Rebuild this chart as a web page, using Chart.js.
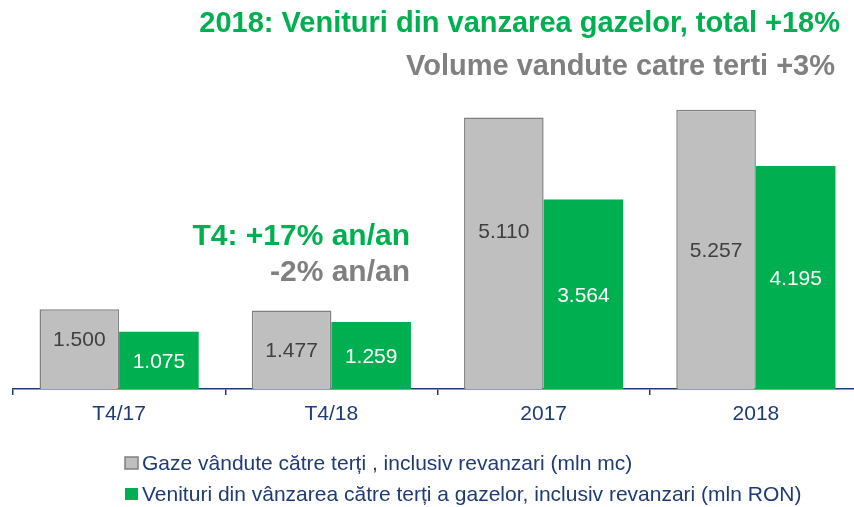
<!DOCTYPE html>
<html>
<head>
<meta charset="utf-8">
<script src="https://cdn.jsdelivr.net/npm/chart.js@4.4.0/dist/chart.umd.min.js"></script>
<style>
  html, body { margin: 0; padding: 0; background: #fff; overflow: hidden; }
  #wrap { width: 854px; height: 507px; overflow: hidden; }
  #box { width: 875px; height: 507px; }
</style>
</head>
<body>
<div id="wrap"><div id="box"><canvas id="myChart"></canvas></div></div>
<script>
const labels = ["T4/17", "T4/18", "2017", "2018"];
const gazeVandute = [1500, 1477, 5110, 5257];
const venituri = [1075, 1259, 3564, 4195];
const legendLabels = [
    "Gaze vândute către terți , inclusiv revanzari (mln mc)",
    "Venituri din vânzarea către terți a gazelor, inclusiv revanzari (mln RON)"
];

const GREEN = "#00b050";
const GREY_TEXT = "#808080";
const NAVY = "#1f3b73";
const FONT = "'Liberation Sans', Arial, sans-serif";

const fmt = v => v.toLocaleString("de-DE");

// value labels in the bars + headline texts + legend
const overlay = {
    id: "overlay",
    afterDatasetsDraw(chart) {
        const ctx = chart.ctx;
        ctx.save();
        ctx.textAlign = "center";
        ctx.textBaseline = "alphabetic";
        ctx.font = "21px " + FONT;
        chart.data.datasets.forEach((ds, i) => {
            chart.getDatasetMeta(i).data.forEach((bar, j) => {
                const mid = (bar.y + bar.base) / 2;
                // the label in the first and third grey bar sits higher
                let nudge = 0;
                if (i === 0 && j === 0) nudge = -11;
                if (i === 0 && j === 2) nudge = -23;
                ctx.fillStyle = i === 0 ? "#404040" : "#ffffff";
                ctx.fillText(fmt(ds.data[j]), bar.x, mid + nudge + 7.5);
            });
        });

        ctx.textAlign = "right";
        ctx.font = "bold 29px " + FONT;
        ctx.fillStyle = GREEN;
        ctx.fillText("2018: Venituri din vanzarea gazelor, total +18%", 840, 32);
        ctx.fillStyle = GREY_TEXT;
        ctx.fillText("Volume vandute catre terti +3%", 835, 75);

        ctx.font = "bold 30px " + FONT;
        ctx.fillStyle = GREEN;
        ctx.fillText("T4: +17% an/an", 410, 245);
        ctx.fillStyle = GREY_TEXT;
        ctx.fillText("-2% an/an", 410, 281);

        // legend
        ctx.textAlign = "left";
        ctx.font = "21px " + FONT;
        const rows = [470, 501];
        rows.forEach((y, k) => {
            const ds = chart.data.datasets[k];
            ctx.fillStyle = ds.backgroundColor;
            ctx.fillRect(125, y - 13, 13, 12);
            if (k === 0) {
                ctx.strokeStyle = ds.borderColor;
                ctx.lineWidth = 1.5;
                ctx.strokeRect(125, y - 13, 13, 12);
            }
            ctx.fillStyle = NAVY;
            ctx.fillText(legendLabels[k], 142, y);
        });
        ctx.restore();
    }
};

new Chart(document.getElementById("myChart"), {
    type: "bar",
    data: {
        labels: labels,
        datasets: [
            {
                label: legendLabels[0],
                data: gazeVandute,
                backgroundColor: "#bfbfbf",
                borderColor: "#808080",
                borderWidth: 1.5,
                categoryPercentage: 0.75,
                barPercentage: 1.0
            },
            {
                label: legendLabels[1],
                data: venituri,
                backgroundColor: GREEN,
                borderWidth: 0,
                categoryPercentage: 0.75,
                barPercentage: 1.0
            }
        ]
    },
    options: {
        responsive: true,
        maintainAspectRatio: false,
        animation: false,
        layout: {
            padding: { top: 17, left: 13, right: 13, bottom: 0 }
        },
        plugins: {
            legend: { display: false },
            tooltip: { enabled: false }
        },
        scales: {
            x: {
                afterFit: s => { s.height = 118; },
                grid: {
                    drawOnChartArea: false,
                    color: NAVY,
                    tickLength: 6,
                    lineWidth: 1.5
                },
                border: { color: NAVY, width: 1.5 },
                ticks: {
                    color: NAVY,
                    padding: 7,
                    font: { family: FONT, size: 21 }
                }
            },
            y: {
                display: false,
                min: 0,
                max: 7000
            }
        }
    },
    plugins: [overlay]
});
</script>
</body>
</html>
